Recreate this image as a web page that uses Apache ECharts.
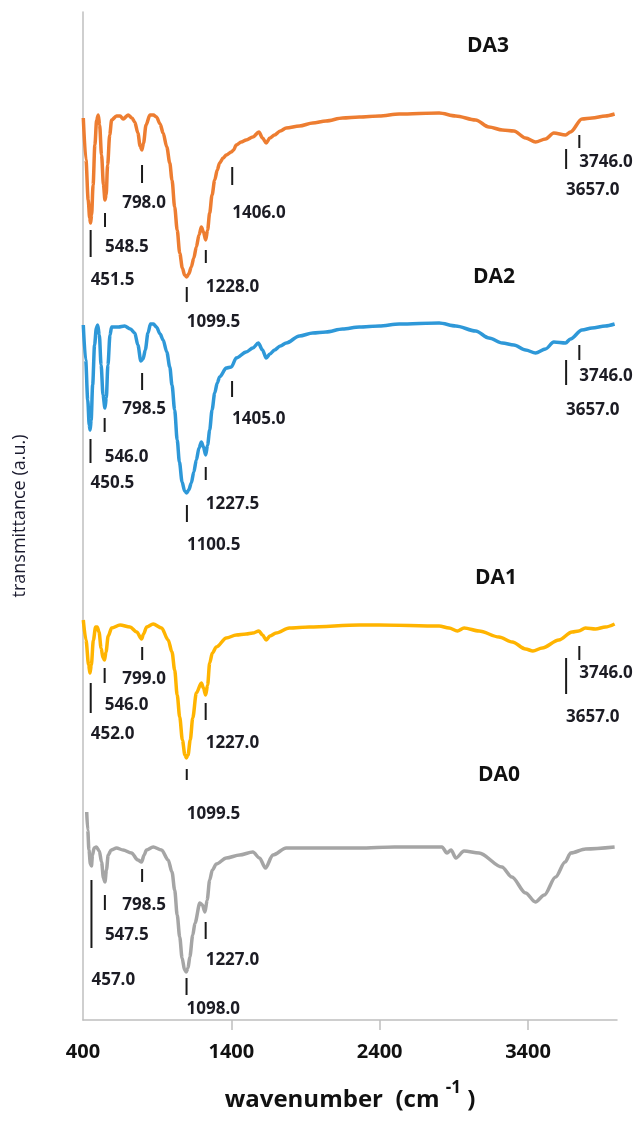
<!DOCTYPE html>
<html>
<head>
<meta charset="utf-8">
<script src="https://cdn.jsdelivr.net/npm/echarts@6/dist/echarts.min.js"></script>
<style>
html,body{margin:0;padding:0;background:#fff;}
#chart{width:638px;height:1122px;}
</style>
</head>
<body>
<div id="chart"></div>
<script>
// ---------- DATA ----------
const seriesNames = ['DA3', 'DA2', 'DA1', 'DA0'];
const xTickLabels = [400, 1400, 2400, 3400];

const da3Wn = [402,420,435,445,451,458,468,480,492,503,512,525,538,548,556,566,580,593,626,650,671,704,730,749,770,785,797,808,825,851,875,895,920,940,965,985,1000,1018,1035,1052,1070,1085,1099,1113,1130,1147,1164,1182,1198,1212,1227,1240,1254,1270,1288,1305,1321,1345,1366,1400,1415,1433,1467,1500,1545,1586,1610,1635,1660,1691,1730,1770,1859,1949,2038,2150,2263,2397,2532,2801,2913,3047,3137,3227,3305,3384,3451,3518,3574,3653,3686,3764,3832,3921,3984];
const da3T = [90.2,86.0,82.0,80.2,79.7,80.5,83.5,87.5,90.0,90.5,89.5,86.5,83.5,82.0,82.5,85.5,88.5,90.0,90.4,90.4,90.1,90.5,90.2,89.8,88.7,87.4,87.0,87.7,89.5,90.5,90.5,90.3,89.6,88.7,87.3,85.7,84.0,81.3,79.0,76.7,75.2,74.5,74.3,74.6,75.3,76.2,77.3,78.5,79.3,78.8,78.0,79.0,80.7,82.5,84.0,85.0,85.7,86.2,86.5,86.8,87.0,87.5,87.8,88.0,88.3,88.8,88.2,87.7,88.2,88.5,88.9,89.2,89.4,89.7,89.9,90.2,90.3,90.4,90.6,90.7,90.4,90.0,89.3,89.0,88.9,88.2,87.8,88.1,88.7,88.5,88.8,90.1,90.2,90.4,90.6];

const da2Wn = [402,418,432,442,448,455,465,478,490,499,510,522,535,548,557,568,582,593,640,680,720,749,770,790,805,820,838,855,875,895,920,940,965,985,1000,1018,1035,1050,1068,1085,1099,1113,1130,1147,1164,1182,1198,1212,1227,1240,1254,1270,1288,1305,1321,1366,1400,1433,1500,1545,1582,1610,1635,1660,1691,1730,1770,1859,1949,2038,2150,2263,2397,2532,2801,2913,3047,3137,3227,3305,3384,3451,3518,3574,3653,3686,3764,3832,3921,3984];
const da2T = [69.5,66.0,62.0,59.5,59.0,60.0,63.5,67.5,69.2,69.5,68.5,65.5,62.5,61.2,62.2,65.5,68.5,69.3,69.3,69.4,69.1,68.7,67.5,65.9,66.1,67.0,68.7,69.6,69.6,69.3,68.6,68.0,66.8,65.3,63.5,61.0,58.0,55.8,53.8,52.9,52.7,53.0,53.7,54.8,56.0,57.2,57.8,57.3,56.5,57.5,59.0,61.0,62.7,63.7,64.3,65.2,65.3,66.2,66.8,67.2,67.7,67.0,66.2,66.6,67.0,67.4,67.7,68.4,68.7,68.8,69.1,69.3,69.4,69.6,69.7,69.4,68.9,68.2,67.7,67.5,67.0,66.7,67.1,67.8,67.7,68.1,69.0,69.2,69.4,69.6];

const da1Wn = [402,420,438,447,456,470,485,496,508,522,535,545,555,570,593,650,717,762,795,808,829,873,930,974,1000,1018,1035,1052,1070,1087,1097,1108,1123,1140,1164,1198,1212,1227,1240,1254,1272,1299,1366,1433,1500,1545,1586,1610,1635,1660,1702,1791,1925,2263,2397,2801,2868,2924,2969,3070,3204,3294,3384,3433,3496,3608,3697,3742,3787,3855,3922,3984];
const da1T = [40.0,38.0,35.5,34.7,35.5,38.0,39.3,39.3,38.8,37.2,36.2,36.0,36.8,38.4,39.2,39.5,39.3,38.8,38.1,38.6,39.3,39.6,39.2,38.0,36.8,35.0,32.5,30.3,28.0,26.5,26.2,26.5,28.0,30.2,32.7,33.7,33.2,32.5,33.5,35.7,36.7,37.3,38.2,38.5,38.6,38.7,38.9,38.5,38.0,38.4,38.7,39.2,39.3,39.5,39.5,39.4,39.2,38.9,39.2,38.9,38.3,37.8,37.1,36.9,37.2,38.0,38.8,38.9,39.2,39.1,39.3,39.6];

const da0Wn = [425,432,440,450,457,464,475,490,510,525,538,548,558,570,590,626,670,727,770,795,812,828,873,930,974,1000,1018,1035,1052,1068,1085,1096,1108,1120,1140,1155,1188,1205,1222,1237,1254,1272,1299,1366,1456,1545,1590,1630,1680,1770,1925,2263,2500,2820,2854,2881,2914,2969,3070,3224,3291,3384,3450,3510,3586,3650,3688,3789,3984];
const da0T = [20.8,19.0,17.0,15.6,15.4,16.5,17.2,17.3,16.9,15.8,14.2,13.8,15.0,16.5,17.0,17.2,17.0,16.7,16.0,15.8,16.5,17.0,17.3,17.0,16.0,14.8,13.0,10.5,8.3,6.2,5.0,4.8,5.2,6.3,8.5,9.7,11.7,11.5,10.8,12.0,14.0,15.0,15.6,16.2,16.5,16.8,16.2,15.2,16.5,17.2,17.2,17.2,17.3,17.3,16.7,17.0,16.2,16.9,16.7,15.3,14.3,12.7,11.8,12.5,14.3,15.8,16.7,17.1,17.3];

// peak annotations: wavenumber, tick top, tick bottom, label level (a.u.), centred flag
const peakWn    = [451.5,548.5,798.0,1406.0,1228.0,1099.5,3746.0,3657.0,
                   450.5,546.0,798.5,1405.0,1227.5,1100.5,3746.0,3657.0,
                   452.0,546.0,799.0,1227.0,1099.5,3746.0,3657.0,
                   457.0,547.5,798.5,1227.0,1098.0];
const peakTop   = [79.0,80.7,85.5,85.3,77.0,73.3,88.5,87.1,
                   58.1,60.2,64.7,63.9,55.3,51.5,67.5,66.0,
                   33.7,35.2,37.3,31.7,25.1,37.4,36.2,
                   14.0,12.5,15.1,9.8,4.2];
const peakBot   = [76.3,79.3,83.7,83.5,75.7,71.8,87.2,85.1,
                   55.7,58.8,63.0,62.3,54.0,49.8,66.0,63.5,
                   30.7,33.7,36.0,30.0,24.0,36.0,32.6,
                   7.2,11.0,13.8,8.1,2.5];
const peakLabY  = [74.0,77.3,81.7,80.7,73.3,69.8,85.8,83.0,
                   53.7,56.3,61.1,60.1,51.6,47.5,64.4,61.0,
                   28.6,31.5,34.1,27.7,20.6,34.7,30.3,
                   4.0,8.5,11.5,6.0,1.1];
const peakText  = peakWn.map(v => v.toFixed(1));
const peakCentred = [0,0,1,0,0,0,0,0,
                     0,0,1,0,0,0,0,0,
                     0,0,1,0,0,0,0,
                     0,0,1,0,0];

// series tags
const tagWn = [3130, 3171, 3184, 3204];
const tagY  = [97.4, 74.3, 44.2, 24.5];

// ---------- CHART ----------
const colors = ['#ED7D31', '#2E98D8', '#FFB400', '#A5A5A5'];
const zip = (a, b) => a.map((v, i) => [v, b[i]]);
const spectra = [zip(da3Wn, da3T), zip(da2Wn, da2T), zip(da1Wn, da1T), zip(da0Wn, da0T)];

const FONT = '"Open Sans", "Liberation Sans", sans-serif';
const chart = echarts.init(document.getElementById('chart'), null, {renderer: 'canvas'});

const lineSeries = spectra.map((d, i) => ({
  name: seriesNames[i],
  type: 'line',
  data: d,
  showSymbol: false,
  smooth: 0.3,
  smoothMonotone: 'x',
  lineStyle: {color: colors[i], width: 3.5},
  itemStyle: {color: colors[i]},
  silent: true,
  z: 2
}));

const annSeries = {
  type: 'custom',
  silent: true,
  clip: false,
  z: 5,
  data: peakWn.map((w, i) => [w, peakTop[i], peakBot[i], peakLabY[i]]),
  renderItem: function (params, api) {
    const i = params.dataIndex;
    const w = api.value(0);
    const p1 = api.coord([w, api.value(1)]);
    const p2 = api.coord([w, api.value(2)]);
    const pl = api.coord([w, api.value(3)]);
    const centred = peakCentred[i] === 1;
    return {
      type: 'group',
      children: [
        {type: 'line', shape: {x1: p1[0], y1: p1[1], x2: p2[0], y2: p2[1]},
         style: {stroke: '#1a1a1a', lineWidth: 2}},
        {type: 'text', x: centred ? pl[0] + 2 : pl[0], y: pl[1],
         style: {text: peakText[i], fill: '#1c1c24', font: 'bold 17px ' + FONT,
                 align: centred ? 'center' : 'left', verticalAlign: 'middle'}}
      ]
    };
  }
};

const tagSeries = {
  type: 'custom',
  silent: true,
  clip: false,
  z: 5,
  data: tagWn.map((w, i) => [w, tagY[i]]),
  renderItem: function (params, api) {
    const p = api.coord([api.value(0), api.value(1)]);
    return {
      type: 'text', x: p[0], y: p[1],
      style: {text: seriesNames[params.dataIndex], fill: '#111', font: 'bold 21px ' + FONT,
              align: 'center', verticalAlign: 'middle'}
    };
  }
};

chart.setOption({
  animation: false,
  backgroundColor: '#fff',
  grid: {left: 83, right: 21, top: 12, bottom: 102, containLabel: false},
  xAxis: {
    type: 'value',
    min: 400, max: 4000, interval: 1000,
    name: '{a|wavenumber  (cm }{s|-1}{a| )}',
    nameLocation: 'middle',
    nameGap: 60,
    nameTextStyle: {
      rich: {
        a: {fontFamily: FONT, fontWeight: 'bold', fontSize: 24, color: '#111', verticalAlign: 'bottom', lineHeight: 32},
        s: {fontFamily: FONT, fontWeight: 'bold', fontSize: 17, color: '#111', verticalAlign: 'top', lineHeight: 32}
      }
    },
    axisLine: {show: true, lineStyle: {color: '#BFBFBF', width: 1.5}},
    axisTick: {show: true, inside: false, length: 10, lineStyle: {color: '#BFBFBF', width: 1.5},
               customValues: xTickLabels.slice(1)},
    axisLabel: {show: true, customValues: xTickLabels, margin: 22,
                formatter: v => String(v),
                fontFamily: FONT, fontWeight: 'bold', fontSize: 20, color: '#111'},
    splitLine: {show: false}
  },
  yAxis: {
    type: 'value',
    min: 0, max: 100.8,
    name: 'transmittance (a.u.)',
    nameLocation: 'middle',
    nameGap: 54,
    nameTextStyle: {fontFamily: FONT, fontSize: 18, color: '#1a1a2e'},
    axisLine: {show: true, lineStyle: {color: '#BFBFBF', width: 1.5}},
    axisTick: {show: false},
    axisLabel: {show: false},
    splitLine: {show: false}
  },
  series: [...lineSeries, annSeries, tagSeries]
});
</script>
</body>
</html>
